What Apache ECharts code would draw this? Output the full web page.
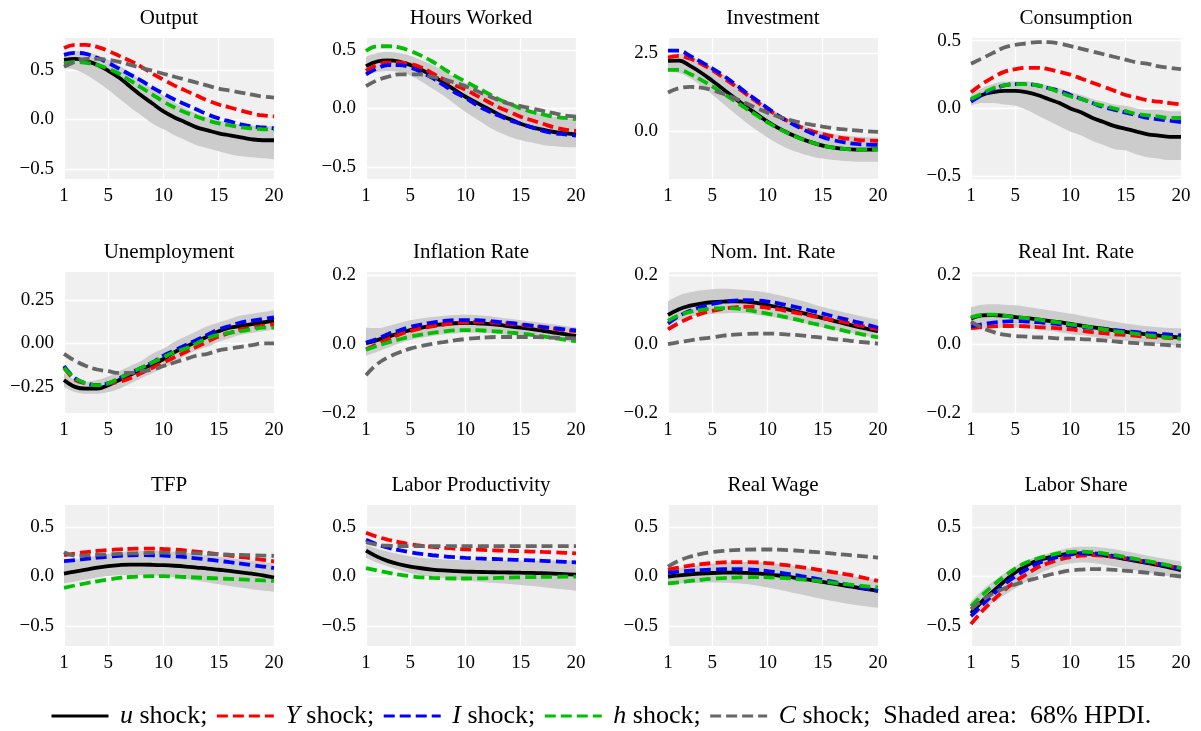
<!DOCTYPE html>
<html><head><meta charset="utf-8">
<script src="https://cdn.jsdelivr.net/npm/echarts@6/dist/echarts.min.js"></script>
<style>html,body{margin:0;padding:0;background:#fff}#c{width:1201px;height:731px}</style>
</head><body><div id="c"></div>
<script>
const periods = [1,2,3,4,5,6,7,8,9,10,11,12,13,14,15,16,17,18,19,20];
const xTicks = [1,5,10,15,20];

// Output
const out_lo = [0.52,0.50,0.45,0.38,0.30,0.21,0.12,0.04,-0.04,-0.10,-0.16,-0.21,-0.26,-0.29,-0.32,-0.35,-0.37,-0.38,-0.39,-0.40];
const out_hi = [0.68,0.69,0.68,0.65,0.60,0.54,0.47,0.39,0.31,0.24,0.17,0.11,0.06,0.02,-0.01,-0.03,-0.05,-0.06,-0.07,-0.07];
const out_u = [0.60,0.61,0.59,0.55,0.49,0.42,0.33,0.24,0.16,0.08,0.02,-0.03,-0.08,-0.11,-0.14,-0.16,-0.18,-0.20,-0.21,-0.21];
const out_Y = [0.72,0.75,0.75,0.73,0.69,0.64,0.59,0.53,0.46,0.40,0.34,0.29,0.24,0.19,0.15,0.12,0.09,0.06,0.04,0.03];
const out_I = [0.65,0.67,0.66,0.62,0.57,0.51,0.45,0.39,0.32,0.26,0.20,0.15,0.10,0.05,0.01,-0.02,-0.05,-0.07,-0.08,-0.09];
const out_h = [0.56,0.58,0.57,0.55,0.51,0.46,0.39,0.32,0.25,0.18,0.12,0.07,0.03,-0.01,-0.04,-0.06,-0.08,-0.09,-0.10,-0.10];
const out_C = [0.53,0.58,0.61,0.61,0.60,0.58,0.55,0.52,0.49,0.46,0.43,0.40,0.37,0.34,0.31,0.29,0.27,0.25,0.23,0.22];
// Hours Worked
const hrs_lo = [0.28,0.31,0.32,0.31,0.28,0.23,0.17,0.11,0.04,-0.03,-0.09,-0.15,-0.20,-0.24,-0.27,-0.29,-0.31,-0.32,-0.33,-0.33];
const hrs_hi = [0.44,0.47,0.48,0.47,0.45,0.41,0.37,0.32,0.27,0.22,0.17,0.12,0.08,0.04,0.01,-0.02,-0.05,-0.07,-0.08,-0.09];
const hrs_u = [0.36,0.40,0.41,0.40,0.37,0.33,0.28,0.22,0.16,0.10,0.05,0.00,-0.05,-0.09,-0.13,-0.16,-0.18,-0.20,-0.21,-0.22];
const hrs_Y = [0.32,0.37,0.39,0.39,0.38,0.35,0.30,0.25,0.20,0.16,0.11,0.06,0.01,-0.03,-0.07,-0.10,-0.13,-0.16,-0.18,-0.19];
const hrs_I = [0.29,0.34,0.37,0.37,0.35,0.31,0.26,0.20,0.14,0.09,0.03,-0.02,-0.06,-0.10,-0.13,-0.16,-0.19,-0.21,-0.22,-0.23];
const hrs_h = [0.49,0.53,0.53,0.52,0.49,0.45,0.40,0.34,0.28,0.23,0.18,0.13,0.08,0.04,0.00,-0.03,-0.05,-0.07,-0.08,-0.09];
const hrs_C = [0.19,0.24,0.27,0.29,0.29,0.29,0.27,0.25,0.22,0.19,0.15,0.11,0.07,0.04,0.02,0.00,-0.02,-0.04,-0.06,-0.07];
// Investment
const inv_lo = [1.92,1.87,1.70,1.46,1.18,0.88,0.58,0.29,0.03,-0.21,-0.42,-0.59,-0.72,-0.82,-0.89,-0.94,-0.97,-0.99,-0.99,-0.99];
const inv_hi = [2.47,2.50,2.42,2.25,2.05,1.82,1.57,1.31,1.05,0.80,0.57,0.37,0.21,0.08,-0.02,-0.10,-0.15,-0.18,-0.20,-0.21];
const inv_u = [2.26,2.27,2.10,1.88,1.62,1.35,1.07,0.80,0.55,0.30,0.09,-0.09,-0.24,-0.37,-0.47,-0.54,-0.58,-0.60,-0.60,-0.59];
const inv_Y = [2.37,2.42,2.33,2.17,1.96,1.72,1.47,1.21,0.95,0.70,0.48,0.29,0.13,0.00,-0.10,-0.18,-0.24,-0.28,-0.31,-0.32];
const inv_I = [2.59,2.59,2.42,2.23,2.02,1.79,1.53,1.26,1.00,0.74,0.49,0.28,0.09,-0.07,-0.20,-0.30,-0.37,-0.42,-0.44,-0.45];
const inv_h = [1.97,1.97,1.84,1.65,1.44,1.21,0.98,0.74,0.51,0.28,0.08,-0.10,-0.25,-0.37,-0.47,-0.54,-0.58,-0.60,-0.60,-0.59];
const inv_C = [1.24,1.38,1.42,1.40,1.32,1.20,1.06,0.90,0.74,0.59,0.46,0.36,0.27,0.20,0.14,0.09,0.05,0.02,-0.01,-0.03];
// Consumption
const con_lo = [0.02,0.04,0.04,0.03,0.02,-0.01,-0.05,-0.09,-0.13,-0.17,-0.20,-0.24,-0.27,-0.30,-0.31,-0.34,-0.36,-0.37,-0.38,-0.38];
const con_hi = [0.10,0.15,0.18,0.20,0.20,0.20,0.19,0.17,0.15,0.12,0.10,0.07,0.05,0.03,0.02,0.00,-0.01,-0.01,-0.02,-0.02];
const con_u = [0.06,0.10,0.12,0.13,0.13,0.12,0.10,0.07,0.04,0.00,-0.03,-0.07,-0.10,-0.13,-0.15,-0.17,-0.19,-0.20,-0.21,-0.21];
const con_Y = [0.12,0.18,0.23,0.27,0.29,0.30,0.30,0.29,0.27,0.25,0.22,0.19,0.16,0.13,0.10,0.08,0.06,0.05,0.04,0.03];
const con_I = [0.05,0.10,0.14,0.17,0.18,0.18,0.17,0.15,0.13,0.10,0.07,0.04,0.01,-0.01,-0.03,-0.05,-0.07,-0.08,-0.09,-0.10];
const con_h = [0.07,0.11,0.15,0.17,0.18,0.18,0.17,0.15,0.12,0.09,0.07,0.04,0.02,0.00,-0.02,-0.04,-0.05,-0.06,-0.07,-0.07];
const con_C = [0.33,0.37,0.41,0.45,0.47,0.48,0.49,0.49,0.48,0.46,0.44,0.42,0.40,0.38,0.36,0.34,0.33,0.31,0.30,0.29];
// Unemployment
const une_lo = [-0.25,-0.28,-0.29,-0.29,-0.28,-0.26,-0.23,-0.20,-0.17,-0.14,-0.11,-0.07,-0.04,-0.02,0.01,0.03,0.05,0.06,0.07,0.08];
const une_hi = [-0.17,-0.21,-0.22,-0.21,-0.19,-0.16,-0.13,-0.10,-0.06,-0.03,0.01,0.04,0.07,0.10,0.12,0.14,0.16,0.17,0.18,0.19];
const une_u = [-0.21,-0.25,-0.26,-0.26,-0.24,-0.21,-0.18,-0.15,-0.12,-0.09,-0.05,-0.02,0.01,0.04,0.07,0.09,0.10,0.11,0.12,0.13];
const une_Y = [-0.14,-0.21,-0.23,-0.24,-0.23,-0.22,-0.20,-0.17,-0.14,-0.11,-0.08,-0.05,-0.02,0.01,0.04,0.06,0.08,0.09,0.10,0.11];
const une_I = [-0.13,-0.20,-0.23,-0.24,-0.23,-0.20,-0.17,-0.14,-0.11,-0.07,-0.04,-0.01,0.02,0.05,0.08,0.10,0.12,0.13,0.14,0.15];
const une_h = [-0.14,-0.20,-0.23,-0.24,-0.23,-0.20,-0.17,-0.14,-0.11,-0.08,-0.05,-0.03,0.00,0.03,0.05,0.06,0.07,0.08,0.09,0.09];
const une_C = [-0.06,-0.10,-0.13,-0.15,-0.16,-0.17,-0.17,-0.16,-0.15,-0.13,-0.11,-0.09,-0.07,-0.06,-0.04,-0.03,-0.02,-0.01,0.00,0.00];
// Inflation Rate
const inf_lo = [-0.034,-0.022,-0.01,0.002,0.012,0.019,0.024,0.028,0.031,0.033,0.033,0.032,0.03,0.027,0.024,0.021,0.017,0.013,0.009,0.005];
const inf_hi = [0.048,0.047,0.053,0.062,0.07,0.075,0.079,0.082,0.085,0.086,0.085,0.082,0.078,0.074,0.07,0.066,0.062,0.058,0.053,0.049];
const inf_u = [0.003,0.012,0.022,0.032,0.041,0.048,0.054,0.058,0.061,0.062,0.061,0.059,0.056,0.052,0.048,0.044,0.039,0.034,0.029,0.024];
const inf_Y = [-0.015,0.0,0.015,0.028,0.038,0.046,0.052,0.057,0.061,0.064,0.065,0.064,0.062,0.059,0.056,0.052,0.049,0.045,0.041,0.038];
const inf_I = [0.005,0.015,0.03,0.04,0.05,0.057,0.063,0.067,0.07,0.07,0.07,0.068,0.065,0.062,0.058,0.054,0.05,0.047,0.043,0.04];
const inf_h = [-0.016,-0.005,0.005,0.014,0.022,0.028,0.033,0.037,0.04,0.041,0.041,0.039,0.037,0.034,0.031,0.027,0.023,0.018,0.013,0.009];
const inf_C = [-0.09,-0.058,-0.038,-0.024,-0.013,-0.005,0.001,0.006,0.011,0.015,0.018,0.02,0.021,0.021,0.021,0.021,0.02,0.019,0.018,0.017];
// Nom. Int. Rate
const nom_lo = [0.053,0.07,0.08,0.085,0.088,0.09,0.091,0.09,0.086,0.082,0.076,0.07,0.063,0.056,0.048,0.042,0.036,0.03,0.023,0.017];
const nom_hi = [0.125,0.142,0.151,0.157,0.16,0.161,0.16,0.158,0.155,0.15,0.143,0.135,0.127,0.118,0.108,0.1,0.092,0.085,0.078,0.072];
const nom_u = [0.085,0.102,0.112,0.118,0.122,0.124,0.125,0.124,0.12,0.114,0.107,0.1,0.092,0.084,0.076,0.068,0.06,0.052,0.045,0.038];
const nom_Y = [0.043,0.062,0.077,0.089,0.097,0.103,0.107,0.109,0.109,0.106,0.101,0.095,0.089,0.082,0.076,0.07,0.064,0.057,0.05,0.043];
const nom_I = [0.06,0.082,0.097,0.108,0.117,0.123,0.127,0.128,0.127,0.124,0.119,0.112,0.105,0.097,0.089,0.081,0.073,0.065,0.057,0.048];
const nom_h = [0.068,0.084,0.094,0.1,0.104,0.105,0.104,0.1,0.095,0.089,0.083,0.076,0.069,0.061,0.054,0.046,0.039,0.032,0.026,0.02];
const nom_C = [0.0,0.006,0.011,0.016,0.02,0.025,0.028,0.03,0.031,0.031,0.03,0.028,0.026,0.022,0.019,0.015,0.012,0.008,0.005,0.002];
// Real Int. Rate
const rir_lo = [0.04,0.045,0.047,0.048,0.048,0.046,0.043,0.039,0.035,0.03,0.026,0.022,0.018,0.014,0.01,0.007,0.004,0.001,-0.002,-0.005];
const rir_hi = [0.107,0.115,0.116,0.115,0.113,0.109,0.104,0.099,0.094,0.089,0.083,0.077,0.071,0.065,0.06,0.056,0.052,0.049,0.047,0.046];
const rir_u = [0.075,0.084,0.085,0.083,0.079,0.076,0.072,0.068,0.064,0.059,0.054,0.049,0.045,0.04,0.036,0.032,0.028,0.025,0.022,0.019];
const rir_Y = [0.047,0.05,0.052,0.053,0.053,0.052,0.05,0.048,0.046,0.043,0.039,0.035,0.032,0.029,0.027,0.024,0.022,0.02,0.018,0.017];
const rir_I = [0.052,0.058,0.063,0.066,0.067,0.066,0.064,0.061,0.058,0.054,0.05,0.047,0.044,0.041,0.038,0.035,0.032,0.03,0.028,0.026];
const rir_h = [0.078,0.085,0.086,0.083,0.079,0.076,0.072,0.067,0.063,0.058,0.053,0.048,0.043,0.038,0.034,0.03,0.026,0.022,0.019,0.016];
const rir_C = [0.066,0.048,0.036,0.028,0.024,0.022,0.02,0.019,0.017,0.016,0.015,0.013,0.011,0.008,0.005,0.003,0.001,-0.001,-0.003,-0.005];
// TFP
const tfp_lo = [-0.07,-0.05,-0.03,-0.01,0.005,0.012,0.015,0.014,0.01,0.002,-0.01,-0.025,-0.042,-0.06,-0.078,-0.095,-0.112,-0.128,-0.142,-0.155];
const tfp_hi = [0.15,0.17,0.19,0.21,0.23,0.245,0.255,0.26,0.26,0.257,0.25,0.24,0.228,0.214,0.2,0.186,0.172,0.158,0.145,0.132];
const tfp_u = [0.03,0.05,0.07,0.09,0.105,0.115,0.12,0.12,0.118,0.114,0.108,0.1,0.09,0.08,0.068,0.056,0.042,0.028,0.012,-0.01];
const tfp_Y = [0.215,0.23,0.245,0.257,0.266,0.273,0.278,0.28,0.28,0.277,0.271,0.262,0.251,0.238,0.224,0.21,0.196,0.182,0.168,0.153];
const tfp_I = [0.155,0.165,0.178,0.19,0.2,0.208,0.213,0.215,0.214,0.21,0.203,0.194,0.183,0.171,0.158,0.144,0.13,0.115,0.1,0.085];
const tfp_h = [-0.115,-0.09,-0.068,-0.048,-0.03,-0.015,-0.005,0.0,0.003,0.003,0.0,-0.005,-0.01,-0.015,-0.02,-0.025,-0.03,-0.035,-0.04,-0.045];
const tfp_C = [0.245,0.21,0.212,0.218,0.223,0.228,0.232,0.235,0.238,0.24,0.238,0.235,0.232,0.228,0.224,0.22,0.217,0.214,0.211,0.208];
// Labor Productivity
const lp_lo = [0.19,0.14,0.1,0.065,0.035,0.012,-0.005,-0.018,-0.03,-0.04,-0.05,-0.06,-0.068,-0.076,-0.085,-0.096,-0.108,-0.12,-0.132,-0.145];
const lp_hi = [0.32,0.28,0.25,0.225,0.205,0.19,0.18,0.172,0.167,0.164,0.163,0.162,0.162,0.162,0.162,0.162,0.162,0.162,0.162,0.162];
const lp_u = [0.26,0.2,0.155,0.123,0.1,0.083,0.07,0.061,0.055,0.05,0.047,0.044,0.042,0.04,0.038,0.036,0.033,0.029,0.024,0.018];
const lp_Y = [0.44,0.4,0.37,0.345,0.325,0.31,0.298,0.288,0.28,0.274,0.27,0.266,0.262,0.258,0.255,0.251,0.247,0.243,0.238,0.233];
const lp_I = [0.37,0.325,0.29,0.265,0.245,0.228,0.214,0.203,0.194,0.187,0.182,0.178,0.174,0.17,0.166,0.162,0.158,0.153,0.148,0.143];
const lp_h = [0.085,0.06,0.038,0.018,0.003,-0.008,-0.014,-0.018,-0.02,-0.02,-0.019,-0.017,-0.014,-0.011,-0.008,-0.006,-0.004,-0.003,-0.002,-0.002];
const lp_C = [0.345,0.32,0.31,0.307,0.306,0.306,0.306,0.306,0.306,0.306,0.306,0.306,0.306,0.306,0.306,0.306,0.306,0.306,0.306,0.306];
// Real Wage
const rw_lo = [-0.07,-0.068,-0.065,-0.062,-0.06,-0.062,-0.067,-0.075,-0.09,-0.11,-0.13,-0.155,-0.18,-0.205,-0.228,-0.25,-0.27,-0.288,-0.303,-0.317];
const rw_hi = [0.07,0.085,0.1,0.118,0.13,0.14,0.145,0.147,0.145,0.138,0.127,0.112,0.095,0.075,0.055,0.035,0.016,0.0,-0.017,-0.033];
const rw_u = [0.0,0.012,0.022,0.03,0.035,0.038,0.039,0.037,0.032,0.022,0.01,-0.005,-0.02,-0.037,-0.055,-0.073,-0.091,-0.11,-0.127,-0.145];
const rw_Y = [0.07,0.09,0.11,0.125,0.135,0.142,0.145,0.145,0.142,0.135,0.124,0.11,0.095,0.078,0.06,0.042,0.024,0.005,-0.02,-0.045];
const rw_I = [0.04,0.05,0.058,0.065,0.07,0.073,0.074,0.072,0.066,0.055,0.04,0.023,0.005,-0.015,-0.035,-0.055,-0.077,-0.1,-0.122,-0.145];
const rw_h = [-0.07,-0.06,-0.045,-0.033,-0.023,-0.016,-0.011,-0.008,-0.007,-0.008,-0.013,-0.02,-0.03,-0.04,-0.052,-0.064,-0.076,-0.088,-0.1,-0.11];
const rw_C = [0.1,0.16,0.2,0.228,0.246,0.258,0.265,0.27,0.272,0.272,0.27,0.265,0.258,0.249,0.24,0.23,0.22,0.21,0.2,0.19];
// Labor Share
const ls_lo = [-0.42,-0.34,-0.26,-0.19,-0.12,-0.05,0.02,0.07,0.11,0.13,0.14,0.135,0.12,0.1,0.08,0.06,0.04,0.02,0.0,-0.015];
const ls_hi = [-0.25,-0.14,-0.05,0.03,0.1,0.16,0.2,0.235,0.265,0.29,0.3,0.3,0.29,0.275,0.255,0.235,0.21,0.19,0.17,0.15];
const ls_u = [-0.37,-0.25,-0.15,-0.05,0.04,0.11,0.16,0.19,0.215,0.23,0.232,0.225,0.212,0.195,0.175,0.155,0.135,0.115,0.09,0.065];
const ls_Y = [-0.48,-0.35,-0.24,-0.14,-0.05,0.02,0.09,0.135,0.17,0.195,0.21,0.215,0.21,0.198,0.183,0.165,0.145,0.125,0.104,0.082];
const ls_I = [-0.4,-0.29,-0.18,-0.08,0.0,0.07,0.13,0.17,0.2,0.22,0.232,0.232,0.222,0.205,0.187,0.168,0.148,0.127,0.103,0.077];
const ls_h = [-0.3,-0.19,-0.09,0.0,0.08,0.14,0.18,0.21,0.235,0.248,0.25,0.245,0.233,0.215,0.195,0.175,0.155,0.133,0.11,0.085];
const ls_C = [-0.33,-0.24,-0.17,-0.12,-0.08,-0.045,-0.015,0.015,0.04,0.06,0.07,0.075,0.073,0.067,0.058,0.048,0.037,0.025,0.012,0.0];

// y-axis tick values and labels
const ticksHalf = [-0.5, 0, 0.5];
const labelsHalf = ['\u22120.5', '0.0', '0.5'];
const ticksInv = [0, 2.5];
const labelsInv = ['0.0', '2.5'];
const ticksUne = [-0.25, 0, 0.25];
const labelsUne = ['\u22120.25', '0.00', '0.25'];
const ticksRate = [-0.2, 0, 0.2];
const labelsRate = ['\u22120.2', '0.0', '0.2'];

const shockNames = ['u', 'Y', 'I', 'h', 'C'];
const shockColors = ['#000000', '#ff0000', '#0000ff', '#00c000', '#666666'];

const panels = [
  {title: 'Output', lo: out_lo, hi: out_hi, lines: [out_u, out_Y, out_I, out_h, out_C], min: -0.6, max: 0.82, ticks: ticksHalf, labels: labelsHalf},
  {title: 'Hours Worked', lo: hrs_lo, hi: hrs_hi, lines: [hrs_u, hrs_Y, hrs_I, hrs_h, hrs_C], min: -0.6, max: 0.6, ticks: ticksHalf, labels: labelsHalf},
  {title: 'Investment', lo: inv_lo, hi: inv_hi, lines: [inv_u, inv_Y, inv_I, inv_h, inv_C], min: -1.55, max: 3.0, ticks: ticksInv, labels: labelsInv},
  {title: 'Consumption', lo: con_lo, hi: con_hi, lines: [con_u, con_Y, con_I, con_h, con_C], min: -0.52, max: 0.52, ticks: ticksHalf, labels: labelsHalf},
  {title: 'Unemployment', lo: une_lo, hi: une_hi, lines: [une_u, une_Y, une_I, une_h, une_C], min: -0.4, max: 0.41, ticks: ticksUne, labels: labelsUne},
  {title: 'Inflation Rate', lo: inf_lo, hi: inf_hi, lines: [inf_u, inf_Y, inf_I, inf_h, inf_C], min: -0.2, max: 0.21, ticks: ticksRate, labels: labelsRate},
  {title: 'Nom. Int. Rate', lo: nom_lo, hi: nom_hi, lines: [nom_u, nom_Y, nom_I, nom_h, nom_C], min: -0.2, max: 0.21, ticks: ticksRate, labels: labelsRate},
  {title: 'Real Int. Rate', lo: rir_lo, hi: rir_hi, lines: [rir_u, rir_Y, rir_I, rir_h, rir_C], min: -0.2, max: 0.21, ticks: ticksRate, labels: labelsRate},
  {title: 'TFP', lo: tfp_lo, hi: tfp_hi, lines: [tfp_u, tfp_Y, tfp_I, tfp_h, tfp_C], min: -0.7, max: 0.72, ticks: ticksHalf, labels: labelsHalf},
  {title: 'Labor Productivity', lo: lp_lo, hi: lp_hi, lines: [lp_u, lp_Y, lp_I, lp_h, lp_C], min: -0.7, max: 0.72, ticks: ticksHalf, labels: labelsHalf},
  {title: 'Real Wage', lo: rw_lo, hi: rw_hi, lines: [rw_u, rw_Y, rw_I, rw_h, rw_C], min: -0.7, max: 0.72, ticks: ticksHalf, labels: labelsHalf},
  {title: 'Labor Share', lo: ls_lo, hi: ls_hi, lines: [ls_u, ls_Y, ls_I, ls_h, ls_C], min: -0.7, max: 0.72, ticks: ticksHalf, labels: labelsHalf}
];

const FONT = 'Liberation Serif';
const colLeft = [64, 366, 668, 971];
const rowTop = [38, 272, 505];
const plotW = 210, plotH = 141;
const grids = [], xAxes = [], yAxes = [], series = [], titles = [];
const pair = arr => periods.map((p, k) => [p, arr[k]]);
// value first, period second: so the stack is computed on the value (y) dimension
const pairYX = arr => periods.map((p, k) => [arr[k], p]);

panels.forEach((p, i) => {
  const r = Math.floor(i / 4), c = i % 4;
  grids.push({left: colLeft[c], top: rowTop[r], width: plotW, height: plotH, show: true,
    backgroundColor: '#f0f0f0', borderWidth: 0});
  titles.push({text: p.title, left: colLeft[c] + plotW / 2, top: rowTop[r] - 30, textAlign: 'center', padding: 0,
    textStyle: {fontFamily: FONT, fontSize: 21, fontWeight: 'normal', color: '#000'}});
  xAxes.push({gridIndex: i, type: 'value', min: 1, max: 20,
    axisLine: {show: false}, axisTick: {show: false, customValues: xTicks},
    axisLabel: {customValues: xTicks, fontFamily: FONT, fontSize: 19, color: '#000', margin: 8},
    splitLine: {show: true, lineStyle: {color: '#ffffff', width: 1.3}}});
  yAxes.push({gridIndex: i, type: 'value', min: p.min, max: p.max,
    axisLine: {show: false}, axisTick: {show: false, customValues: p.ticks},
    axisLabel: {customValues: p.ticks, fontFamily: FONT, fontSize: 19, color: '#000', margin: 10,
      formatter: v => { const k = p.ticks.findIndex(t => Math.abs(t - v) < 1e-9); return k >= 0 ? p.labels[k] : ''; }},
    splitLine: {show: true, lineStyle: {color: '#ffffff', width: 1.3}}});
  const diff = p.hi.map((h, k) => h - p.lo[k]);
  series.push({type: 'line', name: 'band_lo_' + i, xAxisIndex: i, yAxisIndex: i, data: pairYX(p.lo),
    encode: {x: 1, y: 0},
    stack: 'band' + i, stackStrategy: 'all', symbol: 'none', smooth: 0.4, silent: true,
    lineStyle: {opacity: 0, width: 0}, z: 1});
  series.push({type: 'line', name: 'band_hi_' + i, xAxisIndex: i, yAxisIndex: i, data: pairYX(diff),
    encode: {x: 1, y: 0},
    stack: 'band' + i, stackStrategy: 'all', symbol: 'none', smooth: 0.4, silent: true,
    lineStyle: {opacity: 0, width: 0}, areaStyle: {color: '#cccccc', opacity: 1}, z: 1});
  p.lines.forEach((arr, s) => {
    series.push({type: 'line', name: shockNames[s], xAxisIndex: i, yAxisIndex: i, data: pair(arr),
      symbol: 'none', smooth: 0.4, silent: true, z: 2 + s,
      itemStyle: {color: shockColors[s]},
      lineStyle: {color: shockColors[s], width: 3.8, type: s === 0 ? 'solid' : [11, 5], cap: 'butt'}});
  });
});

const legendText = {u: 'u', Y: 'Y', I: 'I', h: 'h', C: 'C'};
const option = {
  animation: false,
  backgroundColor: '#ffffff',
  title: titles,
  grid: grids,
  xAxis: xAxes,
  yAxis: yAxes,
  series: series,
  legend: {
    data: shockNames, left: 50, top: 703, padding: 0, itemWidth: 57, itemHeight: 14, itemGap: 8,
    selectedMode: false,
    itemStyle: {opacity: 0, borderWidth: 0},
    lineStyle: {width: 3},
    textStyle: {fontFamily: FONT, fontSize: 26, color: '#000',
      rich: {i: {fontFamily: FONT, fontSize: 26, fontStyle: 'italic', color: '#000'},
             t: {fontFamily: FONT, fontSize: 26, color: '#000'}}},
    formatter: n => ' {i|' + legendText[n] + '}{t| shock;' + (n === 'C' ? '  Shaded area:  68% HPDI.' : '') + '}'
  }
};
const chart = echarts.init(document.getElementById('c'), null, {renderer: 'canvas'});
chart.setOption(option);
</script></body></html>
